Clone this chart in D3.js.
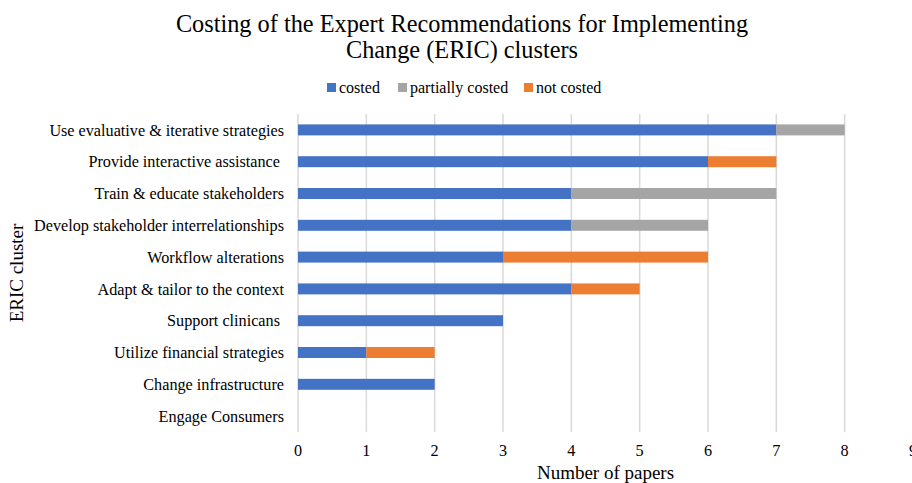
<!DOCTYPE html>
<html>
<head>
<meta charset="utf-8">
<script src="https://cdn.jsdelivr.net/npm/d3@7"></script>
<style>
  body { margin: 0; background: #fff; }
  text { font-family: "Liberation Serif", "Times New Roman", serif; fill: #000; }
</style>
</head>
<body>
<div id="chart"></div>
<script>
var categories = ["Use evaluative & iterative strategies", "Provide interactive assistance ",
  "Train & educate stakeholders", "Develop stakeholder interrelationships", "Workflow alterations",
  "Adapt & tailor to the context", "Support clinicans ", "Utilize financial strategies",
  "Change infrastructure", "Engage Consumers"];
var costed =          [7, 6, 4, 4, 3, 4, 3, 1, 2, 0];
var partiallyCosted = [1, 0, 3, 2, 0, 0, 0, 0, 0, 0];
var notCosted =       [0, 1, 0, 0, 3, 1, 0, 1, 0, 0];
var seriesNames = ["costed", "partially costed", "not costed"];
var xTicks = [0, 1, 2, 3, 4, 5, 6, 7, 8, 9];

var W = 912, H = 483;
var margin = {top: 114, right: 0, bottom: 51, left: 298};
var width = 615, height = H - margin.top - margin.bottom;

var svg = d3.select("#chart").append("svg")
    .attr("width", W).attr("height", H);

var data = categories.map(function(c, i) {
  return {cat: c, "costed": costed[i], "partially costed": partiallyCosted[i], "not costed": notCosted[i]};
});

var x = d3.scaleLinear().domain([0, 9]).range([0, width]);
var y = d3.scaleBand().domain(categories).range([0, height]).paddingInner(0.655).paddingOuter(0.3275);
var z = d3.scaleOrdinal().domain(seriesNames).range(["#4472C4", "#A5A5A5", "#ED7D31"]);

var g = svg.append("g").attr("transform", "translate(" + margin.left + "," + margin.top + ")");

// gridlines
g.append("g").selectAll("line")
  .data(xTicks.filter(function(d) { return d < 9; }))
  .enter().append("line")
    .attr("x1", function(d) { return x(d); })
    .attr("x2", function(d) { return x(d); })
    .attr("y1", 0).attr("y2", height)
    .attr("stroke", "#D9D9D9").attr("stroke-width", 1.5);

// bars
g.append("g").selectAll("g")
  .data(d3.stack().keys(seriesNames)(data))
  .enter().append("g")
    .attr("fill", function(d) { return z(d.key); })
  .selectAll("rect")
  .data(function(d) { return d; })
  .enter().append("rect")
    .attr("y", function(d) { return y(d.data.cat); })
    .attr("x", function(d) { return x(d[0]); })
    .attr("width", function(d) { return x(d[1]) - x(d[0]); })
    .attr("height", y.bandwidth());

// category labels
g.append("g").selectAll("text")
  .data(categories)
  .enter().append("text")
    .attr("x", -14)
    .attr("y", function(d) { return y(d) + y.bandwidth() / 2; })
    .attr("dy", "0.35em")
    .attr("text-anchor", "end")
    .attr("font-size", 16.2)
    .style("white-space", "pre")
    .text(function(d) { return d; });

// x tick labels
g.append("g").selectAll("text")
  .data(xTicks)
  .enter().append("text")
    .attr("x", function(d) { return x(d); })
    .attr("y", height + 24)
    .attr("text-anchor", "middle")
    .attr("font-size", 16.2)
    .text(function(d) { return d; });

// axis titles
svg.append("text")
    .attr("x", margin.left + width / 2).attr("y", 479)
    .attr("text-anchor", "middle").attr("font-size", 19)
    .text("Number of papers");

svg.append("text")
    .attr("transform", "translate(23," + (margin.top + height / 2) + ") rotate(-90)")
    .attr("text-anchor", "middle").attr("font-size", 19)
    .text("ERIC cluster");

// title
var title = svg.append("text").attr("text-anchor", "middle").attr("font-size", 24.3);
title.append("tspan").attr("x", 462).attr("y", 32).text("Costing of the Expert Recommendations for Implementing");
title.append("tspan").attr("x", 462).attr("y", 58).text("Change (ERIC) clusters");

// legend
var legendX = [327, 398, 524];
var legend = svg.append("g").selectAll("g")
  .data(seriesNames)
  .enter().append("g")
    .attr("transform", function(d, i) { return "translate(" + legendX[i] + ",83)"; });
legend.append("rect").attr("width", 9).attr("height", 9).attr("fill", z);
legend.append("text").attr("x", 12).attr("y", 9.5).attr("font-size", 16)
  .text(function(d) { return d; });
</script>
</body>
</html>
